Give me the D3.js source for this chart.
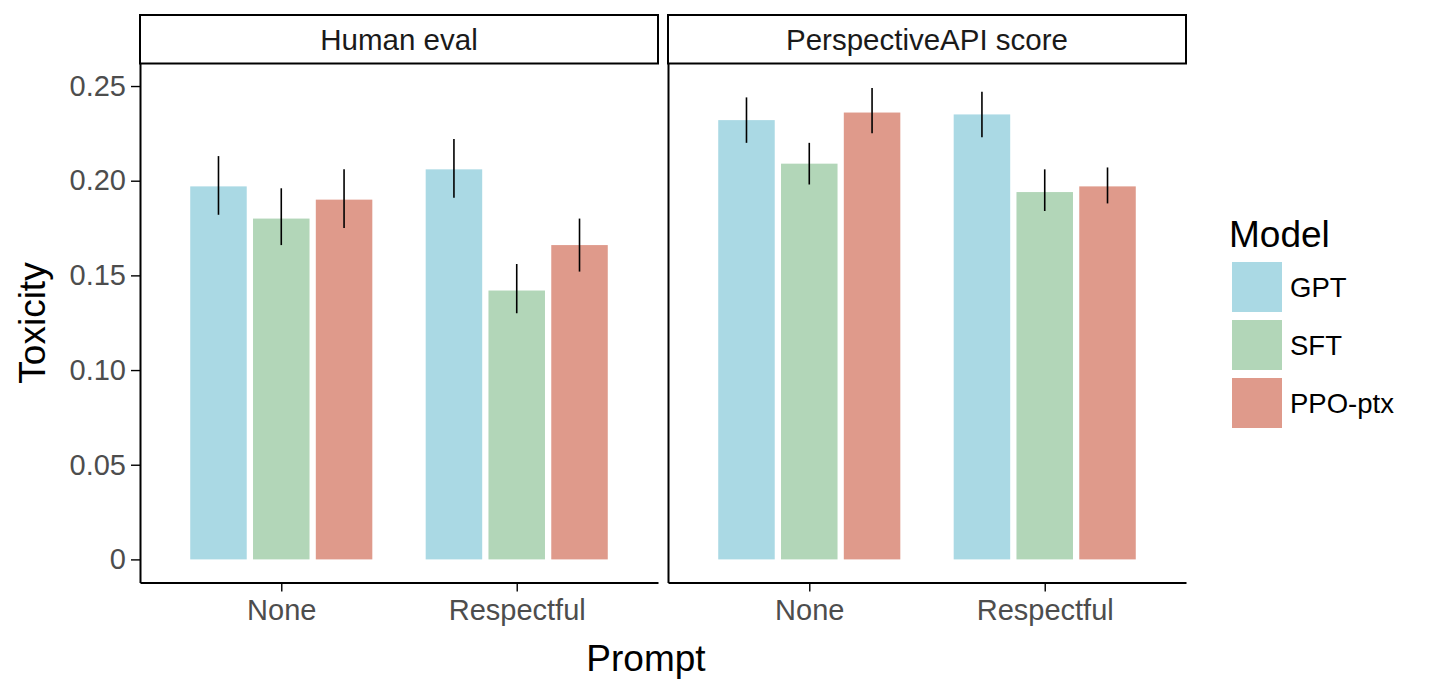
<!DOCTYPE html>
<html>
<head>
<meta charset="utf-8">
<script src="https://cdn.jsdelivr.net/npm/d3@7/dist/d3.min.js"></script>
<style>
  html, body { margin: 0; padding: 0; background: #fff; }
  svg { display: block; font-family: "Liberation Sans", Arial, Helvetica, sans-serif; }
</style>
</head>
<body>
<svg id="chart" width="1447" height="694"></svg>
<script>
// ---- data ----
const panels = ["Human eval", "PerspectiveAPI score"];
const prompts = ["None", "Respectful"];
const models = ["GPT", "SFT", "PPO-ptx"];
const colors = ["#aad9e4", "#b2d6b8", "#df9a8b"];
const yTicks = [0, 0.05, 0.10, 0.15, 0.20, 0.25];

// Human eval
const humanMeanNone = [0.197, 0.180, 0.190];
const humanLoNone   = [0.182, 0.166, 0.175];
const humanHiNone   = [0.213, 0.196, 0.206];
const humanMeanResp = [0.206, 0.142, 0.166];
const humanLoResp   = [0.191, 0.130, 0.152];
const humanHiResp   = [0.222, 0.156, 0.180];
// PerspectiveAPI score
const apiMeanNone = [0.232, 0.209, 0.236];
const apiLoNone   = [0.220, 0.198, 0.225];
const apiHiNone   = [0.244, 0.220, 0.249];
const apiMeanResp = [0.235, 0.194, 0.197];
const apiLoResp   = [0.223, 0.184, 0.188];
const apiHiResp   = [0.247, 0.206, 0.207];

const table = [
  [[humanMeanNone, humanLoNone, humanHiNone], [humanMeanResp, humanLoResp, humanHiResp]],
  [[apiMeanNone, apiLoNone, apiHiNone], [apiMeanResp, apiLoResp, apiHiResp]]
];
const rows = [];
panels.forEach((p, pi) => prompts.forEach((pr, ri) => models.forEach((m, mi) => {
  const [mean, lo, hi] = table[pi][ri];
  rows.push({panel: pi, prompt: pr, model: m, mi, value: mean[mi], lo: lo[mi], hi: hi[mi]});
})));

// ---- layout ----
const svg = d3.select("#chart");
const panelX = [[140, 658], [668, 1186]];
const stripTop = 15, panelTop = 63.5, panelBottom = 582.5;

const y = d3.scaleLinear().domain([-0.0122, 0.2619]).range([panelBottom, panelTop]);

panels.forEach((pname, pi) => {
  const [x0, x1] = panelX[pi];
  const x = d3.scalePoint().domain(prompts).range([x0, x1]).padding(0.6);
  const step = x.step();
  const xm = d3.scaleBand().domain(models).range([-0.4 * step, 0.4 * step]).paddingInner(0.1).paddingOuter(0.05);

  const g = svg.append("g");

  // bars
  g.selectAll("rect.bar").data(rows.filter(r => r.panel === pi)).join("rect")
    .attr("class", "bar")
    .attr("x", d => x(d.prompt) + xm(d.model))
    .attr("width", xm.bandwidth())
    .attr("y", d => y(d.value))
    .attr("height", d => y(0) - y(d.value))
    .attr("fill", d => colors[d.mi]);

  // error bars
  g.selectAll("line.err").data(rows.filter(r => r.panel === pi)).join("line")
    .attr("class", "err")
    .attr("x1", d => x(d.prompt) + xm(d.model) + xm.bandwidth() / 2)
    .attr("x2", d => x(d.prompt) + xm(d.model) + xm.bandwidth() / 2)
    .attr("y1", d => y(d.lo))
    .attr("y2", d => y(d.hi))
    .attr("stroke", "#000")
    .attr("stroke-width", 1.6);

  // y axis
  const ya = d3.axisLeft(y).tickValues(pi === 0 ? yTicks : []).tickSize(9).tickSizeOuter(0)
    .tickFormat(d => d === 0 ? "0" : d.toFixed(2)).tickPadding(5);
  const yg = svg.append("g").attr("transform", `translate(${x0},0)`).call(ya);
  yg.select(".domain").attr("stroke", "#000").attr("stroke-width", 2);
  yg.selectAll(".tick line").attr("stroke", "#000").attr("stroke-width", 1.4);
  yg.selectAll(".tick text").attr("fill", "#4d4d4d").style("font-size", "29px")
    .style("font-family", "'Liberation Sans', Arial, sans-serif");

  // x axis
  const xa = d3.axisBottom(x).tickSize(9).tickSizeOuter(0).tickPadding(8);
  const xg = svg.append("g").attr("transform", `translate(0,${panelBottom})`).call(xa);
  xg.select(".domain").attr("stroke", "#000").attr("stroke-width", 2);
  xg.selectAll(".tick line").attr("stroke", "#000").attr("stroke-width", 1.4);
  xg.selectAll(".tick text").attr("fill", "#4d4d4d").style("font-size", "29px")
    .style("font-family", "'Liberation Sans', Arial, sans-serif");

  // strip
  svg.append("rect")
    .attr("x", x0).attr("y", stripTop)
    .attr("width", x1 - x0).attr("height", panelTop - stripTop)
    .attr("fill", "#fff").attr("stroke", "#000").attr("stroke-width", 2);
  svg.append("text")
    .attr("x", (x0 + x1) / 2).attr("y", 50)
    .attr("text-anchor", "middle")
    .attr("fill", "#1a1a1a")
    .style("font-size", "29.5px")
    .text(pname);
});

// axis titles
svg.append("text")
  .attr("transform", `translate(45,${(panelTop + panelBottom) / 2}) rotate(-90)`)
  .attr("text-anchor", "middle")
  .attr("fill", "#000")
  .style("font-size", "37px")
  .text("Toxicity");
svg.append("text")
  .attr("x", 646).attr("y", 671)
  .attr("text-anchor", "middle")
  .attr("fill", "#000")
  .style("font-size", "37px")
  .text("Prompt");

// legend
const lg = svg.append("g");
lg.append("text").attr("x", 1229).attr("y", 247).attr("fill", "#000")
  .style("font-size", "37px").text("Model");
models.forEach((m, i) => {
  const ky = 262 + i * 58;
  lg.append("rect").attr("x", 1232).attr("y", ky).attr("width", 50).attr("height", 50)
    .attr("fill", colors[i]);
  lg.append("text").attr("x", 1290).attr("y", ky + 25).attr("dy", "0.36em")
    .attr("fill", "#000").style("font-size", "27.5px").text(m);
});
</script>
</body>
</html>
